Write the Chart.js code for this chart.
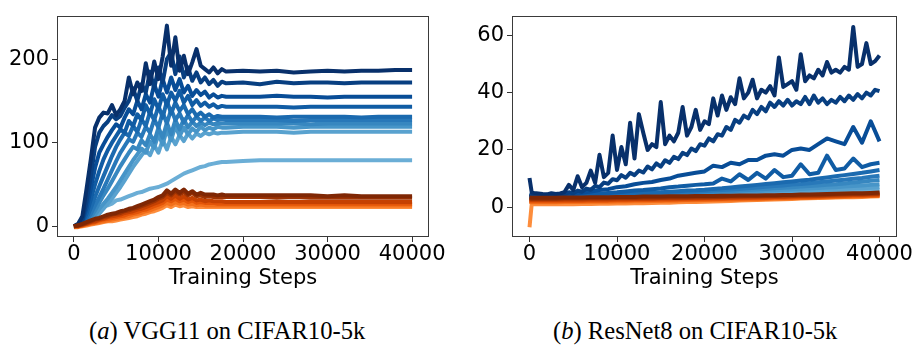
<!DOCTYPE html>
<html><head><meta charset="utf-8">
<script src="https://cdn.jsdelivr.net/npm/chart.js@4.4.1/dist/chart.umd.min.js"></script>
<style>
html,body{margin:0;padding:0;background:#fff;width:918px;height:348px;overflow:hidden}
#wrap{position:relative;width:918px;height:348px;background:#fff}
canvas{position:absolute;top:0}
.cap{position:absolute;font-family:"Liberation Serif","Times New Roman",serif;font-size:24.6px;line-height:24px;white-space:nowrap;color:#000}
</style></head><body>
<div id="wrap">
<canvas id="cA" width="459" height="300" style="left:0;width:459px;height:300px"></canvas>
<canvas id="cB" width="459" height="300" style="left:459px;width:459px;height:300px"></canvas>
<div class="cap" style="left:89px;top:319px">(<i>a</i>) VGG11 on CIFAR10-5k</div>
<div class="cap" style="left:553px;top:319px">(<i>b</i>) ResNet8 on CIFAR10-5k</div>
</div>
<script>
// ---------- shared tick labels ----------
const X_TICKS = [0, 10000, 20000, 30000, 40000];
const VGG_Y_TICKS = [0, 100, 200];
const RES_Y_TICKS = [0, 20, 40, 60];
const X_TITLE = 'Training Steps';

// ---------- (a) VGG11 on CIFAR10-5k ----------
const VGG_STEPS = [0,500,1000,1500,2000,2500,3000,3500,4000,4500,5000,5500,6000,6500,7000,7500,8000,8500,9000,9500,10000,10500,11000,11500,12000,12500,13000,13500,14000,14500,15000,15500,16000,16500,17000,17500,18000,20000,22000,24000,26000,28000,30000,32000,34000,36000,38000,40000];

const VGG_BLUE_0 = [0,3,12,45,80,118,130,136,135,145, 133,140,150,178,158,172,162,195,170,197, 176,203,240,192,226,186,204,182,196,212, 192,188,184,190,183,188,185, 186,185,186,184,185,186,185,186,186,187,187];
const VGG_BLUE_1 = [0,2,8,30,60,95,112,120,125,133, 128,132,142,150,165,150,170,160,185,165, 190,172,200,208,182,203,178,190,174,184, 172,178,170,175,168,173,171, 172,170,173,171,172,172,171,172,172,172,172];
const VGG_BLUE_2 = [0,2,6,22,45,70,88,98,107,115, 122,118,130,140,134,150,140,158,148,170, 155,176,160,178,163,176,160,168,156,163, 157,161,154,158,154,156,155, 155,155,156,155,155,154,155,155,155,155,155];
const VGG_BLUE_3 = [0,1,4,15,32,50,66,80,91,100, 108,116,112,126,120,134,127,145,134,152, 140,158,145,160,150,162,148,156,145,151, 144,148,143,146,142,144,143, 143,143,143,142,143,143,143,143,143,143,143];
const VGG_BLUE_4 = [0,1,3,10,22,35,48,60,72,84, 95,104,112,108,120,113,128,120,137,127, 144,130,150,135,148,138,145,134,140,132, 136,131,134,130,132,131,131, 131,131,130,131,131,131,131,130,131,131,131];
const VGG_BLUE_5 = [0,1,2,7,15,25,35,45,56,67, 78,88,96,104,101,112,107,119,112,128, 118,136,123,140,127,135,124,133,125,131, 126,130,126,129,127,128,127, 127,127,127,126,127,127,127,127,127,127,127];
const VGG_BLUE_6 = [0,1,2,5,11,19,28,37,45,54, 63,72,80,88,95,92,103,97,110,101, 118,106,124,110,127,116,128,118,125,120, 124,121,124,122,123,123,123, 123,123,123,123,122,123,123,123,123,123,123];
const VGG_BLUE_7 = [0,0,1,4,8,14,21,27,33,40, 47,55,63,71,79,86,93,88,101,94, 110,98,116,103,120,108,118,110,117,113, 119,115,118,116,119,118,118, 119,119,119,118,119,119,119,119,119,119,119];
const VGG_BLUE_8 = [0,0,1,3,6,10,15,21,27,33, 40,47,55,63,71,78,85,91,85,97, 88,103,92,107,98,109,102,111,105,111, 108,112,110,112,111,112,112, 113,113,113,112,113,113,113,113,113,113,113];
const VGG_BLUE_9 = [0,1,3,8,13,17,21,24,25,27, 31,32,34,36,38,40,41,43,45,46, 47,49,51,54,57,60,63,65,67,69, 71,72,74,75,76,77,77, 78,79,79,79,79,79,79,79,79,79,79];

const VGG_ORANGE_0 = [0,1,3,5,7,9,10,12,14,15, 16,18,19,21,22,24,26,28,30,32, 35,37,43,39,44,40,44,39,42,38, 40,38,38,38,37,38,37, 37,37,37,37,37,36,37,36,36,36,36];
const VGG_ORANGE_1 = [0,1,2,4,6,8,9,11,12,14, 15,16,18,19,21,22,24,26,28,30, 33,35,40,37,42,38,41,37,40,36, 37,35,36,35,35,35,35, 35,35,34,35,34,34,34,34,34,34,34];
const VGG_ORANGE_2 = [0,0,2,3,5,6,8,9,11,12, 13,14,16,17,18,20,21,23,25,27, 29,31,36,33,37,33,36,32,34,31, 32,30,31,30,30,30,29, 29,29,29,29,29,29,29,29,29,29,29];
const VGG_ORANGE_3 = [0,0,1,3,4,5,7,8,9,10, 11,12,13,15,16,17,19,20,22,24, 26,28,32,30,33,30,32,29,31,28, 29,28,28,28,27,27,27, 27,27,27,27,27,27,27,27,27,27,27];
const VGG_ORANGE_4 = [-1,0,1,2,3,4,5,6,7,8, 9,10,11,12,14,15,16,18,19,21, 23,25,28,26,29,27,28,26,27,25, 26,25,25,25,25,25,25, 25,25,25,25,25,25,25,25,25,25,25];
const VGG_ORANGE_5 = [-1,-1,0,1,2,3,4,5,6,6, 7,8,9,10,11,12,14,15,17,18, 20,22,25,23,26,24,25,23,24,23, 23,23,23,23,23,23,23, 23,23,23,23,23,23,23,23,23,23,23];

// ---------- (b) ResNet8 on CIFAR10-5k ----------
const RES_STEPS_FINE = [0,250,500,1000,1500,2000,2500,3000,3500,4000,4500,5000,5500,6000,6500,7000,7500,8000,8500,9000,9500,10000,10500,11000,11500,12000,12500,13000,13500,14000,14500,15000,15500,16000,16500,17000,17500,18000,18500,19000,19500,20000,20500,21000,21500,22000,22500,23000,23500,24000,24500,25000,25500,26000,26500,27000,27500,28000,28500,29000,29500,30000,30500,31000,31500,32000,32500,33000,33500,34000,34500,35000,35500,36000,36500,37000,37500,38000,38500,39000,39500,40000];
const RES_STEPS = [0,250,1000,2000,3000,4000,5000,6000,7000,8000,9000,10000,11000,12000,13000,14000,15000,16000,17000,18000,19000,20000,21000,22000,23000,24000,25000,26000,27000,28000,29000,30000,31000,32000,33000,34000,35000,36000,37000,38000,39000,40000];

const RES_BLUE_0 = [10.2,5.2,5,4.8,4.6,4.5,4.9,4.6,4.8,5.3, 7.8,6,10.8,7,8.5,12.8,8.5,18.3,10.5,12, 25,13,21,15,29.5,17,32.5,26,20,22, 21,36.7,22,25,23,26,35,25,28,34, 27,30,29,38,32,39,34,38.4,36,45, 38,40,44.5,38,41,40,42.3,39,52.3,42, 43,44,41,53.4,44,46,45,48,46,50.7, 47,48,47,49,48,62.9,49,50,57.3,50, 51,53];
const RES_BLUE_1 = [4.6,4.4,4.3,4.3,4.2,4.3,4.4,4.3,4.5,4.6, 5.2,4.9,5.8,5.4,6.5,6.1,7.4,7,8.6,8.2, 9.8,9.4,11.2,10.3,12,11.2,12.8,12.1,14.2,13.2, 15.3,14.2,16.4,15.5,17.6,16.8,19,18.2,20.5,19.6, 22,21.5,24,23,25.5,25,28,27,30.5,29.5, 32,31,34,32.5,35,33.5,36.5,35,37,35.5, 37.5,35.5,37,36,38.5,36,39,36.5,38,36, 37.5,36.5,38.5,37,39,37.5,39.5,38,40,39, 41,40.5];
const RES_BLUE_2 = [4.2,4.1, 4,4,4.1,4.3,4.6,5,5.5,6,6.3,7, 7.3,8,8.5,8.8,9.5,10,11,11.5,12,12.5, 14.5,14,15.5,15,16.5,16.5,18,18.5,18,20, 20.5,20,22,24,23,22,28,22.5,30,23];
const RES_BLUE_3 = [4,3.9, 3.8,3.8,3.9,4,4.1,4.3,4.5,4.7,5,5.2, 5.5,5.8,6,6.3,6.5,7,7.2,7.5,7.8,8, 8.3,10,9,11.5,9.5,12,10,13,10.5,11, 15,11.5,12,18,13,13.5,17,14,15,15.5];
const RES_BLUE_4 = [3.8,3.7, 3.6,3.6,3.7,3.8,3.9,4,4.1,4.2,4.3,4.5, 4.6,4.8,4.9,5.1,5.2,5.4,5.6,5.8,5.9,6.1, 6.4,6.6,6.9,7.2,7.5,7.8,8.1,8.4,8.7,9, 9.3,9.6,10,10.4,10.8,11.2,11.6,12,12.5,13];
const RES_BLUE_5 = [3.6,3.5, 3.4,3.4,3.5,3.6,3.7,3.8,3.9,4,4.1,4.2, 4.3,4.4,4.6,4.7,4.8,5,5.1,5.3,5.4,5.6, 5.8,6,6.2,6.4,6.6,6.9,7.1,7.4,7.6,7.9, 8.1,8.4,8.7,9,9.3,9.6,9.9,10.2,10.6,11];
const RES_BLUE_6 = [3.4,3.3, 3.2,3.2,3.3,3.4,3.5,3.6,3.7,3.8,3.9,4, 4.1,4.2,4.3,4.4,4.5,4.6,4.7,4.9,5,5.1, 5.3,5.4,5.6,5.8,6,6.2,6.4,6.6,6.8,7, 7.2,7.4,7.6,7.8,8,8.3,8.6,8.9,9.2,9.5];
const RES_BLUE_7 = [3.3,3.2, 3.1,3.1,3.2,3.3,3.4,3.5,3.6,3.7,3.8,3.9, 4,4.1,4.2,4.3,4.4,4.5,4.6,4.7,4.8,4.9, 5,5.1,5.2,5.4,5.5,5.6,5.8,5.9,6.1,6.2, 6.4,6.5,6.7,6.9,7,7.2,7.4,7.6,7.8,8];
const RES_BLUE_8 = [3.2,3.1, 3,3,3.1,3.2,3.3,3.4,3.5,3.6,3.7,3.7, 3.8,3.9,4,4.1,4.2,4.2,4.3,4.4,4.5,4.6, 4.7,4.8,4.9,5,5.1,5.2,5.3,5.4,5.5,5.6, 5.7,5.8,5.9,6,6.2,6.3,6.5,6.6,6.8,7];
const RES_BLUE_9 = [3.1,3, 2.9,2.9,3,3.1,3.2,3.3,3.3,3.4,3.5,3.6, 3.6,3.7,3.8,3.9,3.9,4,4.1,4.2,4.2,4.3, 4.4,4.5,4.5,4.6,4.7,4.8,4.9,5,5,5.1, 5.2,5.3,5.4,5.4,5.5,5.6,5.7,5.8,5.9,6];

const RES_ORANGE_0 = [3.4,3.3, 3.3,3.3,3.3,3.4,3.4,3.4,3.5,3.5,3.5,3.6, 3.6,3.6,3.7,3.7,3.7,3.8,3.8,3.8,3.9,3.9, 3.9,4,4,4.1,4.1,4.1,4.2,4.2,4.3,4.3, 4.4,4.4,4.5,4.6,4.7,4.8,4.9,4.9,5,5.1];
const RES_ORANGE_1 = [3,2.9, 2.9,2.9,2.9,3,3,3,3.1,3.1,3.1,3.2, 3.2,3.2,3.3,3.3,3.3,3.4,3.4,3.4,3.5,3.5, 3.6,3.6,3.7,3.7,3.8,3.8,3.9,3.9,4,4, 4.1,4.2,4.2,4.3,4.4,4.5,4.6,4.6,4.7,4.8];
const RES_ORANGE_2 = [2.6,2.5, 2.5,2.5,2.5,2.6,2.6,2.6,2.7,2.7,2.7,2.8, 2.8,2.9,2.9,2.9,3,3,3,3.1,3.1,3.2, 3.2,3.3,3.3,3.4,3.4,3.5,3.5,3.6,3.6,3.7, 3.8,3.8,3.9,4,4.1,4.2,4.3,4.3,4.4,4.5];
const RES_ORANGE_3 = [2.2,2.1, 2.1,2.1,2.1,2.2,2.2,2.2,2.3,2.3,2.3,2.4, 2.4,2.5,2.5,2.5,2.6,2.6,2.7,2.7,2.8,2.8, 2.9,2.9,3,3,3.1,3.1,3.2,3.3,3.3,3.4, 3.5,3.5,3.6,3.7,3.8,3.9,4,4,4.1,4.2];
const RES_ORANGE_4 = [1.8,1.7, 1.7,1.7,1.7,1.8,1.8,1.8,1.9,1.9,1.9,2, 2,2.1,2.1,2.2,2.2,2.3,2.3,2.4,2.4,2.5, 2.5,2.6,2.6,2.7,2.8,2.8,2.9,3,3,3.1, 3.2,3.3,3.4,3.5,3.6,3.6,3.7,3.8,3.9,4];
const RES_ORANGE_5 = [-7,1, 1,1,1,1,1,1.1,1.1,1.2,1.2,1.3, 1.3,1.4,1.4,1.5,1.6,1.6,1.7,1.8,1.8,1.9, 2,2.1,2.2,2.3,2.4,2.5,2.6,2.7,2.8,2.9, 3,3.1,3.2,3.3,3.4,3.5,3.5,3.6,3.7,3.8];

// ---------- styles ----------
const BLUE_COLORS = ['#08306b','#083f81','#084d97','#105ca4','#1b6aaf','#2878b9','#3787c0','#4795c8','#59a2cf','#6baed6'];
const ORANGE_COLORS = ['#7f2704','#9e3303','#c54102','#e35508','#f3701b','#fd8d3c'];
const FONT = "'DejaVu Sans', sans-serif";

function series(steps, vals, color) {
  return {
    data: steps.map((s, i) => ({x: s, y: vals[i]})),
    borderColor: color, backgroundColor: color,
    borderWidth: 4, pointRadius: 0, fill: false, tension: 0,
    borderJoinStyle: 'round', borderCapStyle: 'butt'
  };
}

const frame = {
  id: 'frame',
  afterDraw(chart) {
    const {ctx, chartArea: a} = chart;
    ctx.save();
    ctx.strokeStyle = '#3a3a3a';
    ctx.lineWidth = 1;
    ctx.strokeRect(Math.round(a.left) + 0.5, Math.round(a.top) + 0.5,
                   Math.round(a.right - a.left) - 1, Math.round(a.bottom - a.top) - 1);
    ctx.restore();
  }
};

function options(ymin, ymax, yTicks, yWidth, padRight) {
  const tickFont = {family: FONT, size: 21};
  const grid = {drawOnChartArea: false, drawTicks: true, tickLength: 5, tickColor: '#333', color: '#333', lineWidth: 1};
  return {
    responsive: false, animation: false, devicePixelRatio: 1,
    layout: {padding: {left: 0, top: 7, right: padRight, bottom: 0}},
    plugins: {legend: {display: false}, tooltip: {enabled: false}},
    scales: {
      x: {
        type: 'linear', min: -2000, max: 42000,
        afterBuildTicks: s => { s.ticks = X_TICKS.map(v => ({value: v})); },
        afterFit: s => { s.height = 63; },
        ticks: {callback: v => String(v), color: '#000', font: tickFont, padding: 0, maxRotation: 0, minRotation: 0, autoSkip: false},
        grid: grid, border: {display: false},
        title: {display: true, text: X_TITLE, color: '#000', font: tickFont, padding: {top: 0, bottom: 9}}
      },
      y: {
        type: 'linear', min: ymin, max: ymax,
        afterBuildTicks: s => { s.ticks = yTicks.map(v => ({value: v})); },
        afterFit: s => { s.width = yWidth; },
        ticks: {callback: v => String(v), color: '#000', font: tickFont, padding: 3},
        grid: grid, border: {display: false}
      }
    }
  };
}

const vggBlue = [VGG_BLUE_0, VGG_BLUE_1, VGG_BLUE_2, VGG_BLUE_3, VGG_BLUE_4, VGG_BLUE_5, VGG_BLUE_6, VGG_BLUE_7, VGG_BLUE_8, VGG_BLUE_9];
const vggOrange = [VGG_ORANGE_0, VGG_ORANGE_1, VGG_ORANGE_2, VGG_ORANGE_3, VGG_ORANGE_4, VGG_ORANGE_5];
const resBlue = [RES_BLUE_2, RES_BLUE_3, RES_BLUE_4, RES_BLUE_5, RES_BLUE_6, RES_BLUE_7, RES_BLUE_8, RES_BLUE_9];
const resOrange = [RES_ORANGE_0, RES_ORANGE_1, RES_ORANGE_2, RES_ORANGE_3, RES_ORANGE_4, RES_ORANGE_5];

const vggSets = [
  ...vggOrange.map((v, i) => series(VGG_STEPS, v, ORANGE_COLORS[i])),
  ...vggBlue.map((v, i) => series(VGG_STEPS, v, BLUE_COLORS[i]))
];
const resSets = [
  ...resOrange.map((v, i) => series(RES_STEPS, v, ORANGE_COLORS[i])),
  series(RES_STEPS_FINE, RES_BLUE_0, BLUE_COLORS[0]),
  series(RES_STEPS_FINE, RES_BLUE_1, BLUE_COLORS[1]),
  ...resBlue.map((v, i) => series(RES_STEPS, v, BLUE_COLORS[i + 2]))
];

new Chart(document.getElementById('cA'), {
  type: 'line', data: {datasets: vggSets},
  options: options(-12.8, 252, VGG_Y_TICKS, 57, 30), plugins: [frame]
});
new Chart(document.getElementById('cB'), {
  type: 'line', data: {datasets: resSets},
  options: options(-10.4, 66.9, RES_Y_TICKS, 53, 21), plugins: [frame]
});
</script>
</body></html>
